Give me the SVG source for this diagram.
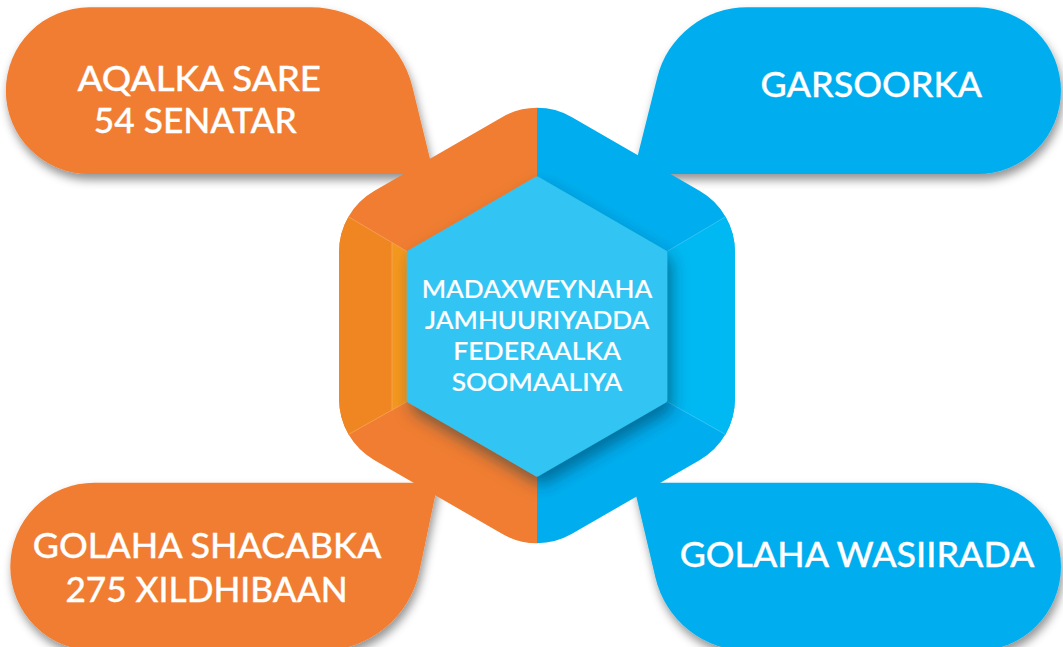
<svg xmlns="http://www.w3.org/2000/svg" width="1063" height="647" viewBox="0 0 1063 647">
  <defs>
    <filter id="blobShadow" x="-10%" y="-20%" width="125%" height="150%">
      <feDropShadow dx="2" dy="6" stdDeviation="5" flood-color="#000" flood-opacity="0.42"/>
    </filter>
    <filter id="innerShadow" x="-20%" y="-20%" width="150%" height="150%">
      <feDropShadow dx="5" dy="9" stdDeviation="8" flood-color="#00324a" flood-opacity="0.5"/>
    </filter>
    <clipPath id="hexClip">
      <path d="M502,117.2 A70,70 0 0 1 572,117.2 L699.9,191.05 A70,70 0 0 1 734.9,251.65 L734.9,399.35 A70,70 0 0 1 699.9,459.95 L572,533.8 A70,70 0 0 1 502,533.8 L374.1,459.95 A70,70 0 0 1 339.1,399.35 L339.1,251.65 A70,70 0 0 1 374.1,191.05 Z"/>
    </clipPath>
  </defs>
  <style>
    .orange { fill: #F07D31; }
    .blue { fill: #00AEEF; }
    .lbl { font-family: Lato, "Liberation Sans", sans-serif; font-weight: 500; fill: #ffffff; stroke: #ffffff; text-anchor: middle; }
    .big { font-size: 34px; stroke-width: 0.3; }
    .mid { font-size: 25.5px; stroke-width: 0.2; }
    .seam { stroke-width: 0.8; fill: none; }
  </style>

  <rect width="1063" height="647" fill="#ffffff"/>

  <g id="connectors"></g>

  <g id="node-aqalka-sare">
    <path class="orange" filter="url(#blobShadow)" d="M89.2,7.3 H310.5 A105,105 0 0 1 412.5,87.2 L433.7,174 H89.2 A83.35,83.35 0 0 1 89.2,7.3 Z"/>
  </g>
  <g id="node-garsoorka">
    <path class="blue" filter="url(#blobShadow)" d="M747,7.3 H977.6 A83.35,83.35 0 0 1 977.6,174 H633.1 L657.3,77.3 A92.5,92.5 0 0 1 747,7.3 Z"/>
  </g>
  <g id="node-golaha-shacabka">
    <path class="orange" filter="url(#blobShadow)" d="M94.3,482.7 H437.9 L419.4,571.3 A100,100 0 0 1 321.5,650.7 H94.3 A84,84 0 0 1 94.3,482.7 Z"/>
  </g>
  <g id="node-golaha-wasiirada">
    <path class="blue" filter="url(#blobShadow)" d="M633.1,482.7 H977 A84,84 0 0 1 977,650.7 H747.8 A95,95 0 0 1 655.4,577.5 Z"/>
  </g>

  <g id="node-madaxweyne">
    <g clip-path="url(#hexClip)">
      <rect class="orange" x="330" y="90" width="207" height="470"/>
      <rect class="blue" x="537" y="90" width="210" height="470"/>
      <polygon fill="#F08621" points="300,188.1 407.1,251.5 407.1,401.5 300,462.9"/>
      <polygon fill="#F3971E" points="392,242.6 407.1,251.5 407.1,401.5 392,410.4"/>
      <polygon fill="#00B9F2" points="774,188.1 666.9,251.5 666.9,401.5 774,462.9"/>
      <path class="seam" stroke="#F6A45C" d="M339.1,211.25 L407.1,251.5 M339.1,439.75 L407.1,401.5 M392,242.6 V410.4"/>
      <path class="seam" stroke="#3CC6F4" d="M734.9,211.25 L666.9,251.5 M734.9,439.75 L666.9,401.5"/>
    </g>
    <polygon fill="#32C5F3" stroke="#32C5F3" stroke-width="5" stroke-linejoin="round" filter="url(#innerShadow)" points="537,179 664.7,252.7 664.7,400.3 537,474 409.3,400.3 409.3,252.7"/>
    <text class="lbl mid" x="537" y="298.3" textLength="230.6" lengthAdjust="spacingAndGlyphs">MADAXWEYNAHA</text>
    <text class="lbl mid" x="537.2" y="329.3" textLength="224.3" lengthAdjust="spacingAndGlyphs">JAMHUURIYADDA</text>
    <text class="lbl mid" x="537.2" y="360" textLength="167.7" lengthAdjust="spacingAndGlyphs">FEDERAALKA</text>
    <text class="lbl mid" x="537" y="391" textLength="170.6" lengthAdjust="spacingAndGlyphs">SOOMAALIYA</text>
  </g>

  <g id="labels">
    <text class="lbl big" x="199.3" y="91" textLength="243.5" lengthAdjust="spacingAndGlyphs">AQALKA SARE</text>
    <text class="lbl big" x="195.3" y="133.3" textLength="203" lengthAdjust="spacingAndGlyphs">54 SENATAR</text>
    <text class="lbl big" x="871.3" y="97.3" textLength="221.4" lengthAdjust="spacingAndGlyphs">GARSOORKA</text>
    <text class="lbl big" x="207.1" y="558.3" textLength="348.8" lengthAdjust="spacingAndGlyphs">GOLAHA SHACABKA</text>
    <text class="lbl big" x="206.6" y="601.7" textLength="282.4" lengthAdjust="spacingAndGlyphs">275 XILDHIBAAN</text>
    <text class="lbl big" x="857" y="567.3" textLength="354.7" lengthAdjust="spacingAndGlyphs">GOLAHA WASIIRADA</text>
  </g>
</svg>
